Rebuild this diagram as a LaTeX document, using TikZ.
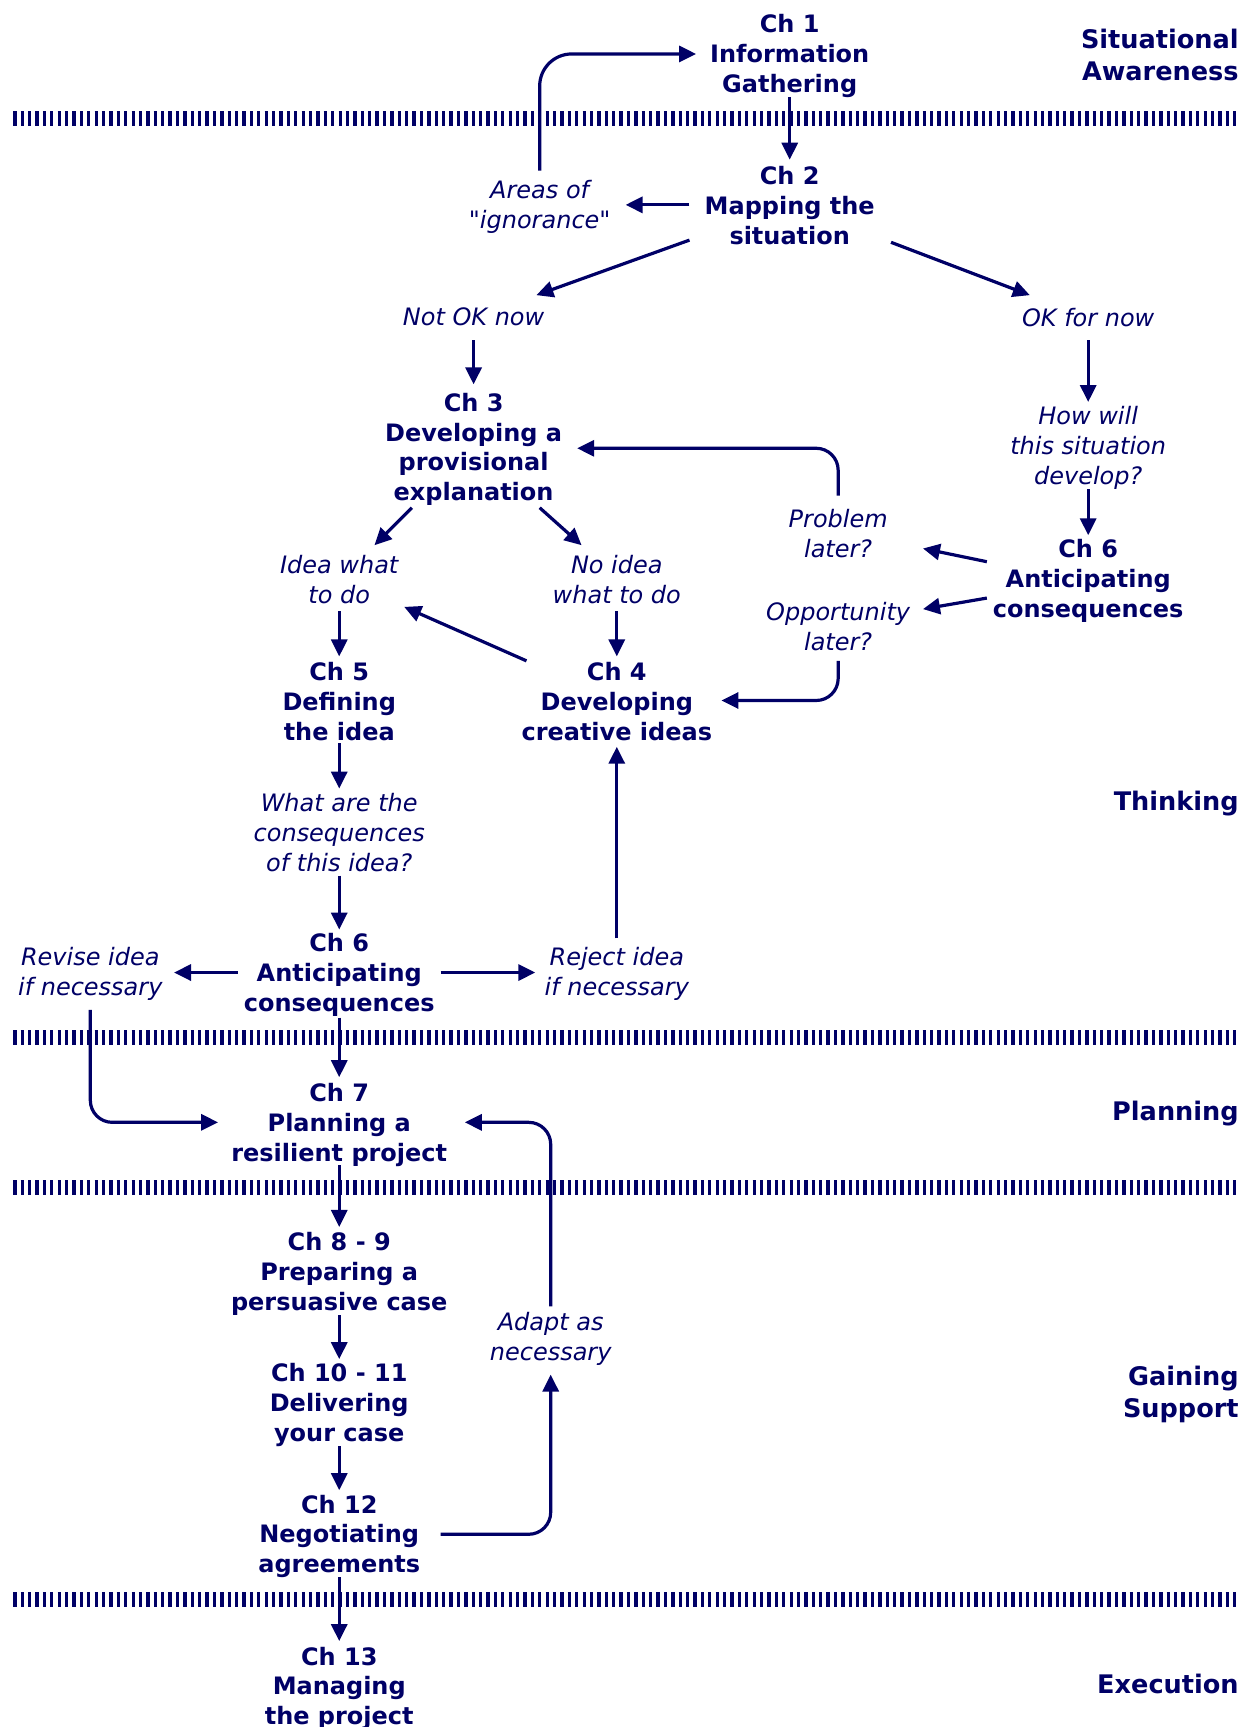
\documentclass[tikz,border=0pt]{standalone}
\usepackage{fontspec}
\setmainfont{DejaVu Sans}[Ligatures=TeXOff]
\usetikzlibrary{arrows.meta,calc}
\definecolor{navy}{RGB}{0,0,102}
\begin{document}
\begin{tikzpicture}[x=0.5512pt,y=-0.5512pt,
  every node/.style={text=navy, inner sep=0pt, align=center},
  chap/.style={font=\fontsize{12}{15}\selectfont\bfseries},
  lab/.style={font=\fontsize{12}{15}\selectfont\itshape},
  side/.style={font=\fontsize{12.8}{15.7}\selectfont\bfseries, align=right, anchor=east},
  arr/.style={draw=navy, line width=1.6pt, -{Triangle[length=8.5pt,width=8pt]}, rounded corners=11pt},
  sep/.style={draw=navy, line width=7.5pt, dash pattern=on 1.65pt off 2.05pt}]
\useasboundingbox (0,0) rectangle (1133,1568);
% separators
\draw[sep] (12,108) -- (1125,108);
\draw[sep] (12,942) -- (1125,942);
\draw[sep] (12,1078) -- (1125,1078);
\draw[sep] (12,1452) -- (1125,1452);
% nodes
\node[chap] (ch1) at (717,51) {Ch 1\\Information\\Gathering};
\node[side] (sa) at (1125,50) {Situational\\Awareness};
\node[chap] (ch2) at (717,187) {Ch 2\\Mapping the\\situation};
\node[lab] (areas) at (490,188) {Areas of\\"ignorance"};
\node[lab] (notok) at (430,288) {Not OK now};
\node[lab] (ok) at (988,288) {OK for now};
\node[chap] (ch3) at (430,408) {Ch 3\\Developing a\\provisional\\explanation};
\node[lab] (how) at (988,407) {How will\\this situation\\develop?};
\node[chap] (ch6r) at (988,527) {Ch 6\\Anticipating\\consequences};
\node[lab] (prob) at (761,484) {Problem\\later?};
\node[lab] (opp) at (761,569) {Opportunity\\later?};
\node[lab] (idea) at (308,526) {Idea what\\to do};
\node[lab] (noidea) at (560,526) {No idea\\what to do};
\node[chap] (ch5) at (308,637) {Ch 5\\Defining\\the idea};
\node[chap] (ch4) at (560,637) {Ch 4\\Developing\\creative ideas};
\node[lab] (what) at (308,756) {What are the\\consequences\\of this idea?};
\node[side] (thinking) at (1125,730) {Thinking};
\node[chap] (ch6) at (308,885) {Ch 6\\Anticipating\\consequences};
\node[lab] (revise) at (82,884) {Revise idea\\if necessary};
\node[lab] (reject) at (560,884) {Reject idea\\if necessary};
\node[chap] (ch7) at (308,1021) {Ch 7\\Planning a\\resilient project};
\node[side] (planning) at (1125,1011) {Planning};
\node[chap] (ch89) at (308,1157) {Ch 8 - 9\\Preparing a\\persuasive case};
\node[lab] (adapt) at (500,1216) {Adapt as\\necessary};
\node[chap] (ch1011) at (308,1276) {Ch 10 - 11\\Delivering\\your case};
\node[side] (gaining) at (1125,1266) {Gaining\\Support};
\node[chap] (ch12) at (308,1395) {Ch 12\\Negotiating\\agreements};
\node[chap] (ch13) at (308,1533) {Ch 13\\Managing\\the project};
\node[side] (execution) at (1125,1529) {Execution};
% connectors
\draw[arr] ($(ch1)+(0,37)$) -- ($(ch2)+(0,-42)$);
\draw[arr] ($(ch2)+(-91,-1)$) -- ($(areas)+(78,-2)$);
\draw[arr, rounded corners=16pt] ($(areas)+(0,-33)$) |- ($(ch1)+(-85,-2)$);
\draw[arr] ($(ch2)+(-91,31)$) -- ($(notok)+(57,-20)$);
\draw[arr] ($(ch2)+(92,33)$) -- ($(ok)+(-53,-20)$);
\draw[arr] ($(notok)+(0,21)$) -- ($(ch3)+(0,-59)$);
\draw[arr] ($(ok)+(0,21)$) -- ($(how)+(0,-42)$);
\draw[arr] ($(how)+(0,37)$) -- ($(ch6r)+(0,-41)$);
\draw[arr] ($(ch6r)+(-92,-17)$) -- ($(prob)+(77,14)$);
\draw[arr] ($(ch6r)+(-92,16)$) -- ($(opp)+(77,-16)$);
\draw[arr] ($(prob)+(0,-34)$) |- ($(ch3)+(94,-1)$);
\draw[arr] ($(opp)+(0,31)$) |- ($(ch4)+(95,-1)$);
\draw[arr] ($(ch3)+(-56,53)$) -- ($(idea)+(32,-31)$);
\draw[arr] ($(ch3)+(60,53)$) -- ($(noidea)+(-32,-31)$);
\draw[arr] ($(idea)+(0,29)$) -- ($(ch5)+(0,-41)$);
\draw[arr] ($(noidea)+(0,29)$) -- ($(ch4)+(0,-41)$);
\draw[arr] ($(ch4)+(-82,-37)$) -- ($(idea)+(59,25)$);
\draw[arr] ($(ch5)+(0,38)$) -- ($(what)+(0,-40)$);
\draw[arr] ($(what)+(0,39)$) -- ($(ch6)+(0,-41)$);
\draw[arr] ($(ch6)+(-92,-2)$) -- ($(revise)+(76,-1)$);
\draw[arr] ($(ch6)+(92,-2)$) -- ($(reject)+(-74,-1)$);
\draw[arr] ($(reject)+(0,-32)$) -- ($(ch4)+(0,41)$);
\draw[arr] ($(ch6)+(0,39)$) -- ($(ch7)+(0,-43)$);
\draw[arr] ($(revise)+(0,33)$) |- ($(ch7)+(-110,-2)$);
\draw[arr] ($(adapt)+(0,-30)$) |- ($(ch7)+(114,-2)$);
\draw[arr] ($(ch7)+(0,37)$) -- ($(ch89)+(0,-43)$);
\draw[arr] ($(ch89)+(0,37)$) -- ($(ch1011)+(0,-42)$);
\draw[arr] ($(ch1011)+(0,37)$) -- ($(ch12)+(0,-42)$);
\draw[arr] ($(ch12)+(92,-2)$) -| ($(adapt)+(0,32)$);
\draw[arr] ($(ch12)+(0,37)$) -- ($(ch13)+(0,-43)$);
\end{tikzpicture}
\end{document}
